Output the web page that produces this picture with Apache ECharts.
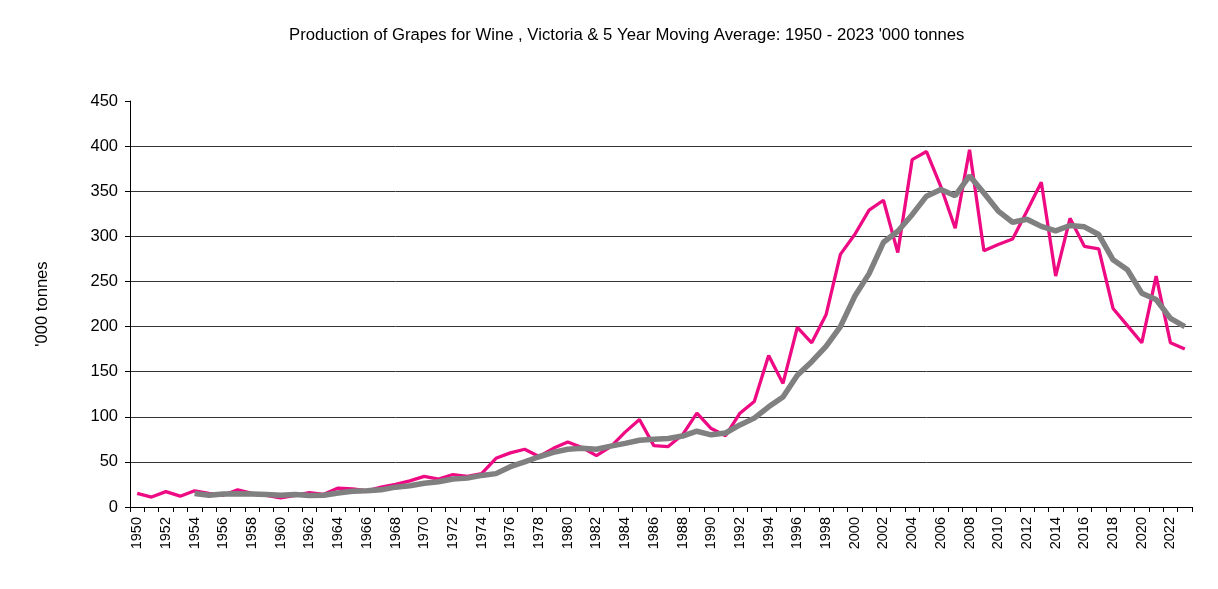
<!DOCTYPE html>
<html>
<head>
<meta charset="utf-8">
<script src="https://cdn.jsdelivr.net/npm/echarts@6/dist/echarts.min.js"></script>
<style>html,body{margin:0;padding:0;background:#fff}#c{width:1218px;height:589px}</style>
</head>
<body>
<div id="c"></div>
<script>
var years = [];
for (var y = 1950; y <= 2023; y++) years.push(String(y));

var production = [15,11,17,12,18,15,13,19,15,13,10,13,16,14,21,20,18,22,25,29,
  34,31,36,34,37,54,60,64,56,65,72,66,57,67,83,97,68,67,80,104,
  87,79,104,117,168,137,199,182,213,280,302,329,340,282,385,394,355,309,396,284,
  291,297,328,360,256,320,289,286,220,201,182,256,182,175];

var movingAvg = [null,null,null,null,15,13,14.5,14.8,14.5,13.8,13,13.8,12.7,13,15.6,17.4,18,19,22,23.5,
  26.4,28,31,32,35,37,44.7,50,55.7,60.5,64,65,64,67.5,70.5,74,75,76,78.6,84,
  80,82,91,98.5,111,122,146,161,178,200,233.5,258.7,293.4,305.6,324,344.5,352,345,367,348,
  328,315.6,319,311,306,312,310.5,302,274,263,237,230,209,200];

var chart = echarts.init(document.getElementById('c'));
chart.setOption({
  animation: false,
  title: {
    text: "Production of Grapes for Wine , Victoria & 5 Year Moving Average: 1950 - 2023 '000 tonnes",
    left: 284, top: 22,
    textStyle: {fontFamily: 'Liberation Sans, Arial', fontSize: 16.7, fontWeight: 'normal', color: '#000'}
  },
  grid: {left: 130, right: 26, top: 101, bottom: 82},
  xAxis: {
    type: 'category', data: years, boundaryGap: true,
    axisLine: {lineStyle: {color: '#000', width: 1}},
    axisTick: {show: true, interval: 0, length: 5, lineStyle: {color: '#000'}},
    axisLabel: {interval: 1, rotate: 90, color: '#000', fontSize: 14.5, fontFamily: 'Liberation Sans, Arial', margin: 10},
    splitLine: {show: false}
  },
  yAxis: {
    type: 'value', min: 0, max: 450, interval: 50,
    name: "'000 tonnes", nameLocation: 'middle', nameGap: 79, nameRotate: 90,
    nameTextStyle: {fontFamily: 'Liberation Sans, Arial', fontSize: 16.6, color: '#000'},
    axisLine: {show: true, lineStyle: {color: '#000', width: 1}},
    axisTick: {show: true, length: 5, lineStyle: {color: '#000'}},
    axisLabel: {color: '#000', fontSize: 16.5, fontFamily: 'Liberation Sans, Arial', margin: 12},
    splitLine: {show: true, showMaxLine: false, lineStyle: {color: '#333', width: 1}}
  },
  series: [
    {
      name: 'Production', type: 'line', data: production, symbol: 'none',
      lineStyle: {color: '#EE0A82', width: 3.3}, z: 2
    },
    {
      name: '5 Year Moving Average', type: 'line', data: movingAvg, symbol: 'none',
      lineStyle: {color: '#808080', width: 5.5}, z: 3
    }
  ]
});
</script>
</body>
</html>
